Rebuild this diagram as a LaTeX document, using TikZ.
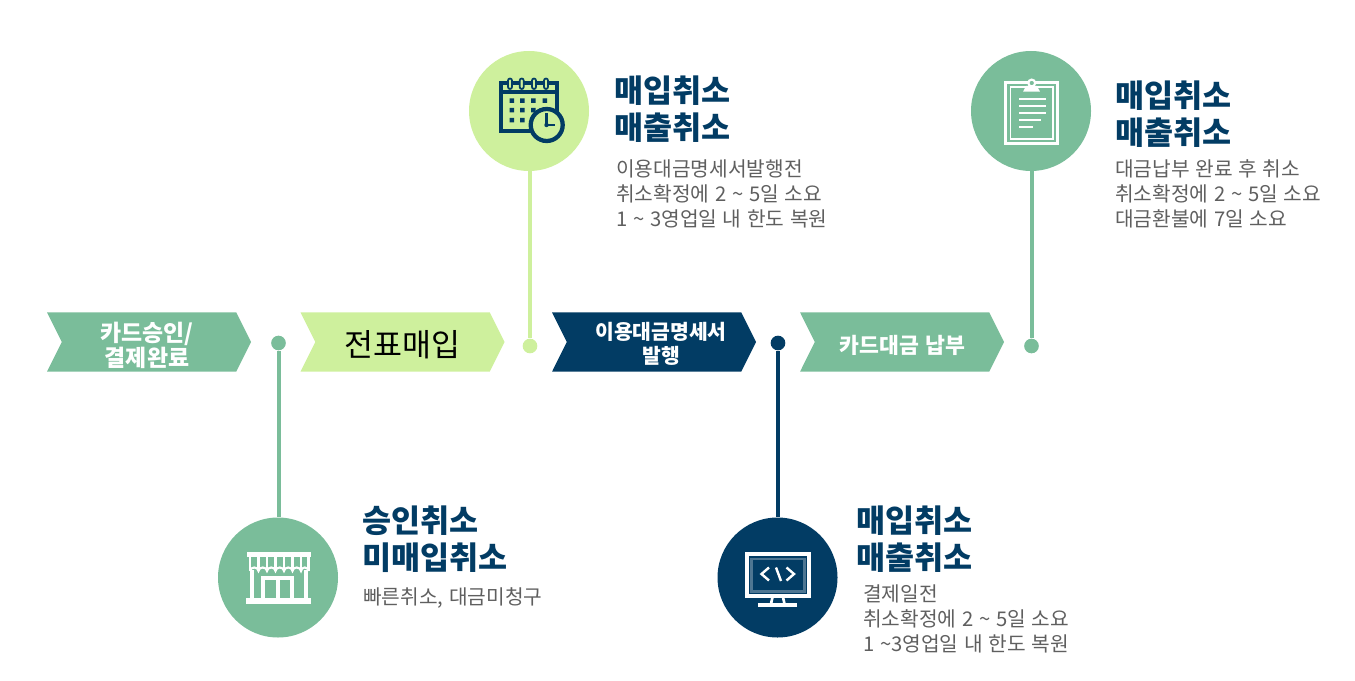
\documentclass[tikz,border=0pt]{standalone}
\usepackage{fontspec}
\usepackage{tikz}
\usetikzlibrary{shapes.symbols}
\setmainfont[WordSpace=1.25]{Noto Sans CJK KR}
\definecolor{leafgreen}{HTML}{7ABD9A}
\definecolor{palegreen}{HTML}{CEF09D}
\definecolor{navyblue}{HTML}{023C64}
\definecolor{bodygray}{HTML}{5F5F5F}
\newcommand{\wave}{\textasciitilde}
\tikzset{
  chevron/.style={signal,signal to=east,signal from=west,signal pointer angle=127,
    minimum width=153pt,minimum height=44.6pt,inner sep=0pt,text=white},
  chevlabel/.style={align=center,inner sep=0pt,text=white,font=\bfseries\fontsize{17.2}{18.8}\selectfont},
  stepdot/.style={circle,minimum size=11pt,inner sep=0pt},
  iconball/.style={circle,minimum size=90pt,inner sep=0pt},
  stem/.style={line width=3pt},
  headtext/.style={right,align=left,inner sep=0pt,text=navyblue,font=\bfseries\fontsize{23.7}{27.5}\selectfont},
  bodytext/.style={right,align=left,inner sep=0pt,text=bodygray,font=\fontsize{15.2}{18.75}\selectfont},
  icon/.style={line width=#1,line join=miter}
}
\begin{document}
\begin{tikzpicture}[x=0.75pt,y=-0.75pt]
  \useasboundingbox (0,0) rectangle (1355,681);

  % chevrons along the middle
  \node [chevron,fill=leafgreen] (cardok) at (149,342) {};
  \node [chevlabel] at (147,345.5) {카드승인/\\결제완료};
  \node [chevron,fill=palegreen] (slip) at (402.5,342) {};
  \node [align=center,inner sep=0pt,font=\fontsize{23.6}{28}\selectfont] at (402.5,345) {전표매입};
  \node [chevron,fill=navyblue] (bill) at (654,342) {};
  \node [chevlabel,font=\bfseries\fontsize{15.3}{18}\selectfont] at (661,344) {이용대금명세서\\발행};
  \node [chevron,fill=leafgreen] (pay) at (902,342) {};
  \node [chevlabel,font=\bfseries\fontsize{16.2}{18}\selectfont] at (902.5,345) {카드대금 납부};

  % dots, balls and their stems
  \node [stepdot,fill=leafgreen] (dotA) at (278.5,343) {};
  \node [stepdot,fill=palegreen] (dotB) at (530,346) {};
  \node [stepdot,fill=navyblue] (dotC) at (778,343) {};
  \node [stepdot,fill=leafgreen] (dotD) at (1031.5,346) {};
  \node [iconball,fill=leafgreen] (ballA) at (278,577.5) {};
  \node [iconball,fill=palegreen] (ballB) at (529,111) {};
  \node [iconball,fill=navyblue] (ballC) at (777.5,577.5) {};
  \node [iconball,fill=leafgreen] (ballD) at (1031,111) {};
  \draw [stem,leafgreen] (dotA) -- (dotA |- ballA.north);
  \draw [stem,palegreen] (dotB) -- (dotB |- ballB.south);
  \draw [stem,navyblue] (dotC) -- (dotC |- ballC.north);
  \draw [stem,leafgreen] (dotD) -- (dotD |- ballD.south);

  % shop
  \fill [white] (246.7,552.3) rectangle (310.7,557);
  \draw [white,icon=1.7pt] (250,556) -- (250,571);
  \draw [white,icon=1.7pt] (258.5,556) -- (258.5,571);
  \draw [white,icon=1.7pt] (267,556) -- (267,571);
  \draw [white,icon=1.7pt] (275.5,556) -- (275.5,571);
  \draw [white,icon=1.7pt] (284,556) -- (284,571);
  \draw [white,icon=1.7pt] (292.5,556) -- (292.5,571);
  \draw [white,icon=1.7pt] (301,556) -- (301,571);
  \draw [white,icon=1.7pt] (308.5,556) -- (308.5,571);
  \draw [white,icon=1.6pt] (250,571) arc (180:0:4.25 and -3.5) arc (180:0:4.25 and -3.5)
    arc (180:0:4.25 and -3.5) arc (180:0:4.25 and -3.5) arc (180:0:4.25 and -3.5)
    arc (180:0:4.25 and -3.5) arc (180:0:3.75 and -3.5);
  \draw [white,icon=3pt] (251.5,570) -- (251.5,600);
  \draw [white,icon=3pt] (306,570) -- (306,600);
  \draw [white,icon=2.4pt] (263,598) -- (263,578) -- (292,578) -- (292,598);
  \draw [white,icon=2.4pt] (278,578) -- (278,598);
  \fill [white] (246,598.3) rectangle (310.7,604.3);

  % calendar with clock
  \draw [navyblue,icon=3pt] (501,83.5) rectangle (556.5,131);
  \draw [navyblue,icon=2.4pt] (501,92) -- (556.5,92);
  \draw [navyblue,icon=1.3pt,fill=palegreen,rounded corners=1.5pt] (508,78.5) rectangle (512,89);
  \draw [navyblue,icon=1.3pt,fill=palegreen,rounded corners=1.5pt] (519.7,78.5) rectangle (523.7,89);
  \draw [navyblue,icon=1.3pt,fill=palegreen,rounded corners=1.5pt] (532,78.5) rectangle (536,89);
  \draw [navyblue,icon=1.3pt,fill=palegreen,rounded corners=1.5pt] (544,78.5) rectangle (548,89);
  \fill [navyblue] (509.5,98.5) rectangle +(4.5,4.5) (520,98.5) rectangle +(4.5,4.5)
    (531,98.5) rectangle +(4.5,4.5) (542.7,98.5) rectangle +(4.5,4.5)
    (509.5,108) rectangle +(4.5,4.5) (520,108) rectangle +(4.5,4.5) (531,108) rectangle +(4.5,4.5)
    (509.5,117.8) rectangle +(4.5,4.5) (520,117.8) rectangle +(4.5,4.5);
  \draw [navyblue,icon=3.2pt,fill=palegreen] (546.7,125) circle [radius=16];
  \draw [navyblue,icon=1.6pt] (546.5,113.5) -- (546.5,125) -- (555,125);
  \fill [navyblue] (546.5,125) circle [radius=2.2];

  % monitor
  \draw [white,icon=2.8pt] (746.8,554) rectangle (809,596);
  \draw [white,opacity=.3,icon=1.6pt] (751.5,558.7) rectangle (804.5,591.5);
  \draw [white,icon=2pt] (772.5,597) -- (771,604);
  \draw [white,icon=2pt] (783,597) -- (784.5,604);
  \fill [white] (758.3,603.3) rectangle (796.7,606.9);
  \draw [white,icon=1.8pt] (769,567.5) -- (761.5,574) -- (769,580.5);
  \draw [white,icon=1.8pt] (776,567.5) -- (781,581);
  \draw [white,icon=1.8pt] (786.5,567.5) -- (794,574) -- (786.5,580.5);

  % clipboard
  \draw [white,icon=2.6pt] (1005.7,82.5) rectangle (1057.7,143.3);
  \draw [white,icon=1.3pt] (1010.5,87) rectangle (1053,139);
  \fill [white] (1023,91.7) -- (1026,86) -- (1037,86) -- (1040,91.7) -- cycle;
  \draw [white,icon=1.6pt,fill=leafgreen] (1031.7,83) circle [radius=3.4];
  \draw [white,icon=1.8pt] (1019,99) -- (1045.7,99);
  \draw [white,icon=1.8pt] (1019,106) -- (1045.7,106);
  \draw [white,icon=1.8pt] (1019,113) -- (1045.7,113);
  \draw [white,icon=1.8pt] (1019,120) -- (1041,120);
  \draw [white,icon=1.8pt] (1019,127.3) -- (1032.7,127.3);

  % texts beside the balls
  \node [headtext] (headA) at (362,539) {승인취소\\미매입취소};
  \node [bodytext] (bodyA) at (363,598) {빠른취소, 대금미청구};
  \node [headtext] (headB) at (614,109) {매입취소\\매출취소};
  \node [bodytext] (bodyB) at (616,194) {이용대금명세서발행전\\취소확정에 2 \wave{} 5일 소요\\1 \wave{} 3영업일 내 한도 복원};
  \node [headtext] (headC) at (856,539) {매입취소\\매출취소};
  \node [bodytext] (bodyC) at (863,619) {결제일전\\취소확정에 2 \wave{} 5일 소요\\1 \wave{}3영업일 내 한도 복원};
  \node [headtext] (headD) at (1115,114) {매입취소\\매출취소};
  \node [bodytext] (bodyD) at (1115,194) {대금납부 완료 후 취소\\취소확정에 2 \wave{} 5일 소요\\대금환불에 7일 소요};
\end{tikzpicture}
\end{document}
